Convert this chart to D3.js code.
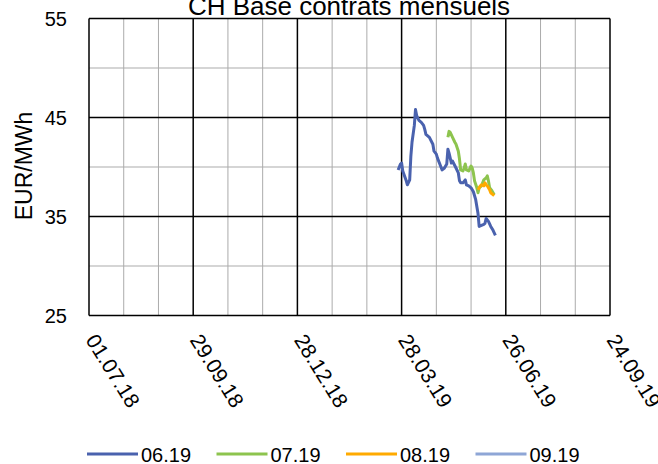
<!DOCTYPE html>
<html>
<head>
<meta charset="utf-8">
<script src="https://cdn.jsdelivr.net/npm/d3@7"></script>
<style>
  body { margin: 0; background: #fff; }
  text { font-family: "Liberation Sans", Arial, sans-serif; fill: #000; }
</style>
</head>
<body>
<div id="chart"></div>
<script>
// series names + colours
const seriesNames = ["06.19", "07.19", "08.19", "09.19"];
const seriesColors = ["#4A62AE", "#8DC44E", "#FFAA00", "#8EA6D6"];

// values (date, EUR/MWh)
const s0619 = [
  ["2019-03-25", 39.7], ["2019-03-27", 40.3], ["2019-03-28", 40.4], ["2019-03-29", 39.6],
  ["2019-04-01", 38.6], ["2019-04-02", 38.2], ["2019-04-04", 38.7], ["2019-04-05", 41.1],
  ["2019-04-06", 42.5], ["2019-04-08", 44.2], ["2019-04-09", 45.8], ["2019-04-10", 45.2],
  ["2019-04-12", 44.7], ["2019-04-14", 44.5], ["2019-04-16", 44.2], ["2019-04-17", 43.8],
  ["2019-04-18", 43.3], ["2019-04-21", 43.0], ["2019-04-24", 42.3], ["2019-04-25", 41.6],
  ["2019-04-27", 41.3], ["2019-04-28", 40.9], ["2019-04-30", 40.3], ["2019-05-02", 39.7],
  ["2019-05-04", 39.9], ["2019-05-06", 40.3], ["2019-05-07", 41.8], ["2019-05-08", 41.4],
  ["2019-05-10", 40.4], ["2019-05-11", 40.6], ["2019-05-14", 39.9], ["2019-05-16", 39.4],
  ["2019-05-17", 38.6], ["2019-05-18", 38.4], ["2019-05-20", 38.4], ["2019-05-22", 38.7],
  ["2019-05-23", 38.2], ["2019-05-25", 38.1], ["2019-05-27", 37.9], ["2019-05-29", 37.5],
  ["2019-05-31", 36.7], ["2019-06-02", 35.3], ["2019-06-03", 34.0], ["2019-06-05", 34.1],
  ["2019-06-07", 34.2], ["2019-06-08", 34.3], ["2019-06-09", 34.8], ["2019-06-11", 34.5],
  ["2019-06-13", 34.0], ["2019-06-15", 33.6], ["2019-06-17", 33.1]
];
const s0719 = [
  ["2019-05-07", 43.0], ["2019-05-08", 43.6], ["2019-05-09", 43.5], ["2019-05-11", 43.0],
  ["2019-05-13", 42.5], ["2019-05-14", 42.3], ["2019-05-16", 41.6], ["2019-05-17", 40.8],
  ["2019-05-18", 39.7], ["2019-05-20", 39.6], ["2019-05-21", 39.9], ["2019-05-22", 40.3],
  ["2019-05-23", 39.7], ["2019-05-25", 39.6], ["2019-05-27", 40.1], ["2019-05-28", 39.9],
  ["2019-05-29", 39.4], ["2019-05-30", 38.6], ["2019-06-01", 37.9], ["2019-06-02", 37.4],
  ["2019-06-03", 37.9], ["2019-06-05", 38.1], ["2019-06-06", 38.4], ["2019-06-07", 38.7],
  ["2019-06-09", 38.9], ["2019-06-10", 39.1], ["2019-06-11", 38.6], ["2019-06-12", 37.9],
  ["2019-06-14", 37.6], ["2019-06-16", 37.2]
];
const s0819 = [
  ["2019-06-02", 37.7], ["2019-06-04", 38.1], ["2019-06-05", 38.2], ["2019-06-07", 38.1],
  ["2019-06-08", 38.4], ["2019-06-09", 38.2], ["2019-06-10", 38.1], ["2019-06-12", 37.7],
  ["2019-06-13", 37.4], ["2019-06-16", 37.1]
];
const s0919 = []; // nothing visible in the plot

const xStart = "2018-07-01", xEnd = "2019-09-24";
const yMajor = [25, 35, 45, 55];
const yMinor = [30, 40, 50];

const W = 658, H = 464;
const pLeft = 89, pRight = 610, pTop = 18.5, pBottom = 315.5;

const parse = d3.utcParse("%Y-%m-%d");
const fmt = d3.utcFormat("%d.%m.%y");

const x = d3.scaleUtc()
  .domain([parse(xStart), parse(xEnd)])
  .range([pLeft, pRight]);
const y = d3.scaleLinear()
  .domain([25, 55])
  .range([pBottom, pTop]);

const days = d3.utcDay.range(parse(xStart), d3.utcDay.offset(parse(xEnd), 1));
const xMajor = days.filter((d, i) => i % 90 === 0);
const xMinor = days.filter((d, i) => i % 30 === 0 && i % 90 !== 0);

const svg = d3.select("#chart").append("svg")
  .attr("width", W)
  .attr("height", H);

// title (cut at top like the original)
svg.append("text")
  .attr("x", 349)
  .attr("y", 15)
  .attr("text-anchor", "middle")
  .style("font-size", "26px")
  .text("CH Base contrats mensuels");

// grid
const grid = svg.append("g");
grid.selectAll(".vmin").data(xMinor).enter().append("line")
  .attr("x1", d => x(d)).attr("x2", d => x(d))
  .attr("y1", pTop).attr("y2", pBottom)
  .attr("stroke", "#ABABAB").attr("stroke-width", 1);
grid.selectAll(".hmin").data(yMinor).enter().append("line")
  .attr("x1", pLeft).attr("x2", pRight)
  .attr("y1", d => y(d)).attr("y2", d => y(d))
  .attr("stroke", "#ABABAB").attr("stroke-width", 1);
grid.selectAll(".vmaj").data(xMajor).enter().append("line")
  .attr("x1", d => x(d)).attr("x2", d => x(d))
  .attr("y1", pTop).attr("y2", pBottom)
  .attr("stroke", "#000").attr("stroke-width", 1.5);
grid.selectAll(".hmaj").data(yMajor).enter().append("line")
  .attr("x1", pLeft).attr("x2", pRight)
  .attr("y1", d => y(d)).attr("y2", d => y(d))
  .attr("stroke", "#000").attr("stroke-width", 1.5);

// y tick labels
svg.selectAll(".ylab").data(yMajor).enter().append("text")
  .attr("x", 67)
  .attr("y", d => y(d) + 7)
  .attr("text-anchor", "end")
  .style("font-size", "20px")
  .text(d => d);

// y axis title
svg.append("text")
  .attr("transform", "translate(32,166) rotate(-90)")
  .attr("text-anchor", "middle")
  .style("font-size", "23px")
  .text("EUR/MWh");

// x tick labels, rotated
svg.selectAll(".xlab").data(xMajor).enter().append("text")
  .attr("transform", d => `translate(${x(d) - 4},340) rotate(58)`)
  .attr("text-anchor", "start")
  .style("font-size", "21px")
  .text(d => fmt(d));

// lines
const line = d3.line()
  .x(d => x(parse(d[0])))
  .y(d => y(d[1]));
const allSeries = [s0619, s0719, s0819, s0919];
svg.selectAll(".series").data(allSeries).enter().append("path")
  .attr("d", d => d.length ? line(d) : null)
  .attr("fill", "none")
  .attr("stroke", (d, i) => seriesColors[i])
  .attr("stroke-width", 3)
  .attr("stroke-linejoin", "round");

// legend
const legend = svg.selectAll(".leg").data(seriesNames).enter().append("g")
  .attr("transform", (d, i) => `translate(${87 + i * 129.5},454)`);
legend.append("line")
  .attr("x1", 0).attr("x2", 51)
  .attr("y1", 0).attr("y2", 0)
  .attr("stroke", (d, i) => seriesColors[i])
  .attr("stroke-width", 3);
legend.append("text")
  .attr("x", 54)
  .attr("y", 7.5)
  .style("font-size", "20px")
  .text(d => d);
</script>
</body>
</html>
